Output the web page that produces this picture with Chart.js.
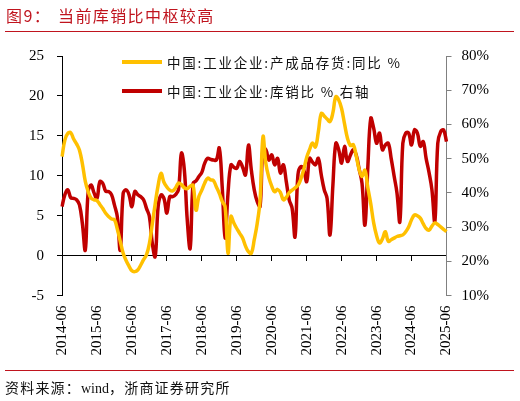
<!DOCTYPE html>
<html><head><meta charset="utf-8">
<script src="https://cdn.jsdelivr.net/npm/chart.js@4.4.0/dist/chart.umd.min.js"></script>
<style>
html,body{margin:0;padding:0;background:#fff;}
#wrap{position:relative;width:520px;height:401px;overflow:hidden;background:#fff;}
#c{position:absolute;left:0;top:0;}
.t{position:absolute;white-space:nowrap;font-family:"Noto Sans CJK SC",sans-serif;line-height:20px;}
.title{color:#C0141E;font-size:16px;letter-spacing:1.4px;top:5px;}
.rule{position:absolute;left:5px;width:509px;height:0;border-top:1.3px solid #C0141E;}
.lgline{position:absolute;left:122px;width:40px;height:4px;}
.lgtext{font-size:13.5px;letter-spacing:1.8px;color:#111;left:167px;}
.src{font-size:14px;letter-spacing:1.2px;color:#111;left:5px;top:377px;}
.serif{font-family:"Liberation Serif",serif;letter-spacing:0;}
</style></head>
<body>
<div id="wrap">
  <canvas id="c" width="520" height="401"></canvas>
  <div class="t title" style="left:6px;">图9：</div>
  <div class="t title" style="left:58px;">当前库销比中枢较高</div>
  <div class="rule" style="top:31px;"></div>
  <div class="lgline" style="top:60px;background:#FFC000;"></div>
  <div class="t lgtext" style="top:52px;">中国:工业企业:产成品存货:同比 %</div>
  <div class="lgline" style="top:89px;background:#C00000;"></div>
  <div class="t lgtext" style="top:81px;">中国:工业企业:库销比 % 右轴</div>
  <div class="rule" style="top:370px;"></div>
  <div class="t src">资料来源：<span class="serif">wind</span>，浙商证券研究所</div>
</div>
<script>
const tickLabels = ['2014-06','2015-06','2016-06','2017-06','2018-06','2019-06','2020-06','2021-06','2022-06','2023-06','2024-06','2025-06'];
const leftTicks = [-5, 0, 5, 10, 15, 20, 25];
const rightTicks = [10, 20, 30, 40, 50, 60, 70, 80];

// monthly categories 2014-06 .. 2025-06
const months = [];
for (let y = 2014, m = 6; y < 2025 || (y === 2025 && m <= 6); m++) {
  if (m > 12) { m = 1; y++; if (y > 2025) break; }
  if (y === 2025 && m > 6) break;
  months.push(y + '-' + String(m).padStart(2, '0'));
}

// 中国:工业企业:产成品存货:同比 %
const inventoryYoY = [
  12.4,14.5,15.3,15.4,14.6,14.0,13.2,11.5,9.3,8.0,
  7.2,7.0,6.9,6.4,5.9,5.3,4.9,4.6,4.5,3.3,
  1.8,0.3,-0.6,-1.3,-1.9,-2.0,-1.8,-1.2,-0.5,0.1,
  1.5,4.0,6.5,8.8,10.3,9.2,8.6,8.2,8.1,8.5,
  9.1,8.9,8.5,8.4,8.7,8.8,5.7,7.4,8.2,9.1,
  9.7,9.5,9.4,8.6,7.8,6.8,6.1,0.3,4.9,4.1,
  3.4,2.8,2.2,1.2,0.5,0.3,2.0,4.0,7.0,14.9,
  11.5,9.8,8.7,8.0,8.3,7.9,7.0,7.3,7.9,8.2,
  8.5,8.8,9.6,10.8,12.3,13.3,14.1,13.6,15.5,17.8,
  17.5,17.1,16.8,17.9,19.9,19.5,18.4,16.5,14.7,13.8,
  13.9,12.5,10.8,9.9,10.7,8.5,6.5,4.1,2.5,1.6,
  2.1,3.0,1.8,2.0,2.2,2.4,2.5,2.6,3.0,3.6,
  4.5,5.1,5.0,4.7,4.0,3.4,3.2,3.7,4.1,3.9,
  3.6,3.3,3.0
];

// 中国:工业企业:库销比 % (右轴)
const stockSalesRatio = [
  36,39.5,40.9,38.6,38.4,38,36.5,31,23.3,40.5,
  42.3,40,38.4,43.3,42.8,40.5,40.4,39.5,36.5,33,
  23.3,39.9,40.9,39.5,36,40.4,39.5,38.9,38,35.5,
  33.1,25.3,21.4,36,39.4,38.4,34.1,38.9,38.9,39.5,
  41,51.6,46.7,32.1,23.8,42.8,43.5,44.8,46,48.7,
  50.1,49.8,49.6,49.6,53.1,41.8,26.8,40,48.2,47.5,
  47.2,49.2,47.5,45.3,54,46.7,40.9,37.5,36,53.1,
  52.6,49.6,51.1,48.2,50.1,45.8,48.2,43.3,38,35.5,
  27.2,45.3,47.7,46.7,43.3,50.1,49,48.2,50.1,45.3,
  41,38.4,27.7,42.3,54.5,52.6,48.7,53.6,49.2,51,
  52.6,51.1,47,42.8,30.6,47.7,61.8,58.9,54.5,57.5,
  52.6,54,54.5,50.1,45,40,31.6,54.5,57.5,57.5,
  54,58.4,57.5,53.6,55,50.1,46,40.9,31.6,54.5,
  57.9,58.4,55
];

const serif = 'Liberation Serif';
const keepYearTicks = (scale) => {
  scale.ticks = scale.ticks.filter(t => tickLabels.includes(months[t.value]));
};

new Chart(document.getElementById('c'), {
  type: 'line',
  data: {
    labels: months,
    datasets: [
      { label: '中国:工业企业:产成品存货:同比 %', data: inventoryYoY, yAxisID: 'y', xAxisID: 'x',
        borderColor: '#FFC000', backgroundColor: '#FFC000', borderWidth: 3.5, pointRadius: 0, tension: 0.4, fill: false },
      { label: '中国:工业企业:库销比 % 右轴', data: stockSalesRatio, yAxisID: 'y1', xAxisID: 'x',
        borderColor: '#C00000', backgroundColor: '#C00000', borderWidth: 3.5, pointRadius: 0, tension: 0.4, fill: false }
    ]
  },
  options: {
    responsive: false,
    animation: false,
    devicePixelRatio: 1,
    layout: { padding: { top: 56, left: 0, right: 0, bottom: 0 } },
    plugins: { legend: { display: false }, tooltip: { enabled: false } },
    scales: {
      x: {
        type: 'category', position: 'bottom', offset: false,
        afterBuildTicks: keepYearTicks,
        afterFit: (s) => { s.height = 105.4; },
        grid: { display: false, drawTicks: false },
        border: { display: false },
        ticks: { autoSkip: false, minRotation: 90, maxRotation: 90, padding: 10,
                 font: { family: serif, size: 15 }, color: '#000' }
      },
      x0: {
        type: 'category', position: { y: 0 }, offset: false,
        afterBuildTicks: keepYearTicks,
        grid: { drawOnChartArea: false, drawTicks: true, tickLength: 5, tickColor: '#000', lineWidth: 1 },
        border: { display: true, color: '#000', width: 1 },
        ticks: { display: false, autoSkip: false }
      },
      y: {
        position: 'left', min: -5, max: 25,
        afterBuildTicks: (s) => { s.ticks = leftTicks.map(v => ({ value: v })); },
        afterFit: (s) => { s.width = 62; },
        grid: { drawOnChartArea: false, drawTicks: true, tickLength: 5, tickColor: '#000' },
        border: { display: true, color: '#000', width: 1 },
        ticks: { padding: 13, font: { family: serif, size: 15 }, color: '#000' }
      },
      y1: {
        position: 'right', min: 10, max: 80,
        afterBuildTicks: (s) => { s.ticks = rightTicks.map(v => ({ value: v })); },
        afterFit: (s) => { s.width = 73.5; },
        grid: { drawOnChartArea: false, drawTicks: true, tickLength: 5, tickColor: '#808080' },
        border: { display: true, color: '#808080', width: 1 },
        ticks: { padding: 10, font: { family: serif, size: 15 }, color: '#000',
                 callback: (v) => v + '%' }
      }
    }
  }
});
</script>
</body></html>
